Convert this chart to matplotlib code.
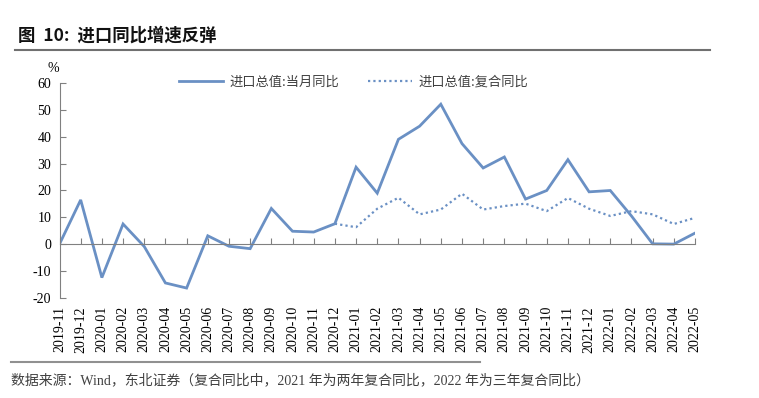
import matplotlib
matplotlib.use("Agg")
import matplotlib.pyplot as plt
import numpy as np

months = ["2019-11", "2019-12", "2020-01", "2020-02", "2020-03", "2020-04", "2020-05",
          "2020-06", "2020-07", "2020-08", "2020-09", "2020-10", "2020-11", "2020-12",
          "2021-01", "2021-02", "2021-03", "2021-04", "2021-05", "2021-06", "2021-07",
          "2021-08", "2021-09", "2021-10", "2021-11", "2021-12", "2022-01", "2022-02",
          "2022-03", "2022-04", "2022-05"]
monthly_yoy = [0.0, 16.5, -12.5, 7.5, -0.9, -14.5, -16.4, 3.1, -0.8, -1.7, 13.3, 4.8, 4.5,
               7.6, 28.7, 19.0, 39.1, 44.0, 52.2, 37.5, 28.4, 32.5, 16.8, 20.0, 31.5,
               19.5, 20.0, 10.5, 0.1, 0.0, 4.1]
compound_yoy = [None] * 13 + [7.6, 6.3, 13.2, 17.3, 11.1, 12.9, 18.8, 12.9, 14.2, 15.1,
                              12.3, 17.2, 13.2, 10.5, 12.3, 11.1, 7.5, 9.8]
yticks = [-20, -10, 0, 10, 20, 30, 40, 50, 60]

cjk = ["Noto Sans CJK SC", "DejaVu Sans"]
serif = ["Liberation Serif", "Noto Sans CJK SC"]
mixed = ["Liberation Serif", "Noto Sans CJK SC"]
color = "#6A90C4"

fig = plt.figure(figsize=(7.59, 3.98), dpi=100)
ax = fig.add_axes([59.5 / 759, 1 - 297.7 / 398, (695 - 59.5) / 759, (297.7 - 83.3) / 398])

x = np.arange(len(months))
ax.plot(x, monthly_yoy, color=color, lw=2.0, solid_joinstyle="miter",
        label="进口总值:当月同比")
cy = np.array([np.nan if v is None else v for v in compound_yoy], dtype=float)
ax.plot(x, cy, color=color, lw=1.6, linestyle=(0, (1, 1.4)), dash_capstyle="butt",
        label="进口总值:复合同比")

ax.set_xlim(0, len(months) - 1)
ax.set_ylim(-20, 60)
ax.set_yticks(yticks)
ax.set_yticklabels([str(v) for v in yticks], family=serif, fontsize=10)
ax.tick_params(axis="y", direction="in", length=4, color="#808080", pad=6)

for s in ["top", "right"]:
    ax.spines[s].set_visible(False)
ax.spines["left"].set_color("#808080")
ax.spines["bottom"].set_position(("data", 0))
ax.spines["bottom"].set_color("#808080")
ax.set_xticks(x)
ax.tick_params(axis="x", direction="in", length=4, color="#808080", labelbottom=False)

sec = ax.secondary_xaxis(0)
sec.set_xticks(x)
sec.set_xticklabels(months, rotation=90, family=serif, fontsize=10)
sec.tick_params(axis="x", length=0, pad=6)
sec.spines["bottom"].set_visible(False)

ax.text(-0.3, 63, "%", family=serif, fontsize=10, ha="center", va="bottom")

leg = ax.legend(loc="upper left", bbox_to_anchor=(0.17, 1.09), ncol=2, frameon=False,
                prop={"family": cjk, "size": 9.5}, handlelength=3.3, columnspacing=2.2,
                handletextpad=0.5)
for t in leg.get_texts():
    t.set_color("#404040")

fig.text(18 / 759, 1 - 36 / 398, "图  10:  进口同比增速反弹", family=cjk, fontsize=12.5,
         fontweight="bold", va="center", ha="left", color="#111111")
fig.add_artist(plt.Line2D([15 / 759, 710 / 759], [1 - 50 / 398, 1 - 50 / 398],
                          color="#707070", lw=1.5))
fig.add_artist(plt.Line2D([11 / 759, 480 / 759], [1 - 362 / 398, 1 - 362 / 398],
                          color="#909090", lw=1.5))
fig.text(11 / 759, 1 - 380 / 398,
         "数据来源：Wind，东北证券（复合同比中，2021 年为两年复合同比，2022 年为三年复合同比）",
         family=mixed, fontsize=10, va="center", ha="left", color="#404040")

fig.savefig("out.png", dpi=100)
